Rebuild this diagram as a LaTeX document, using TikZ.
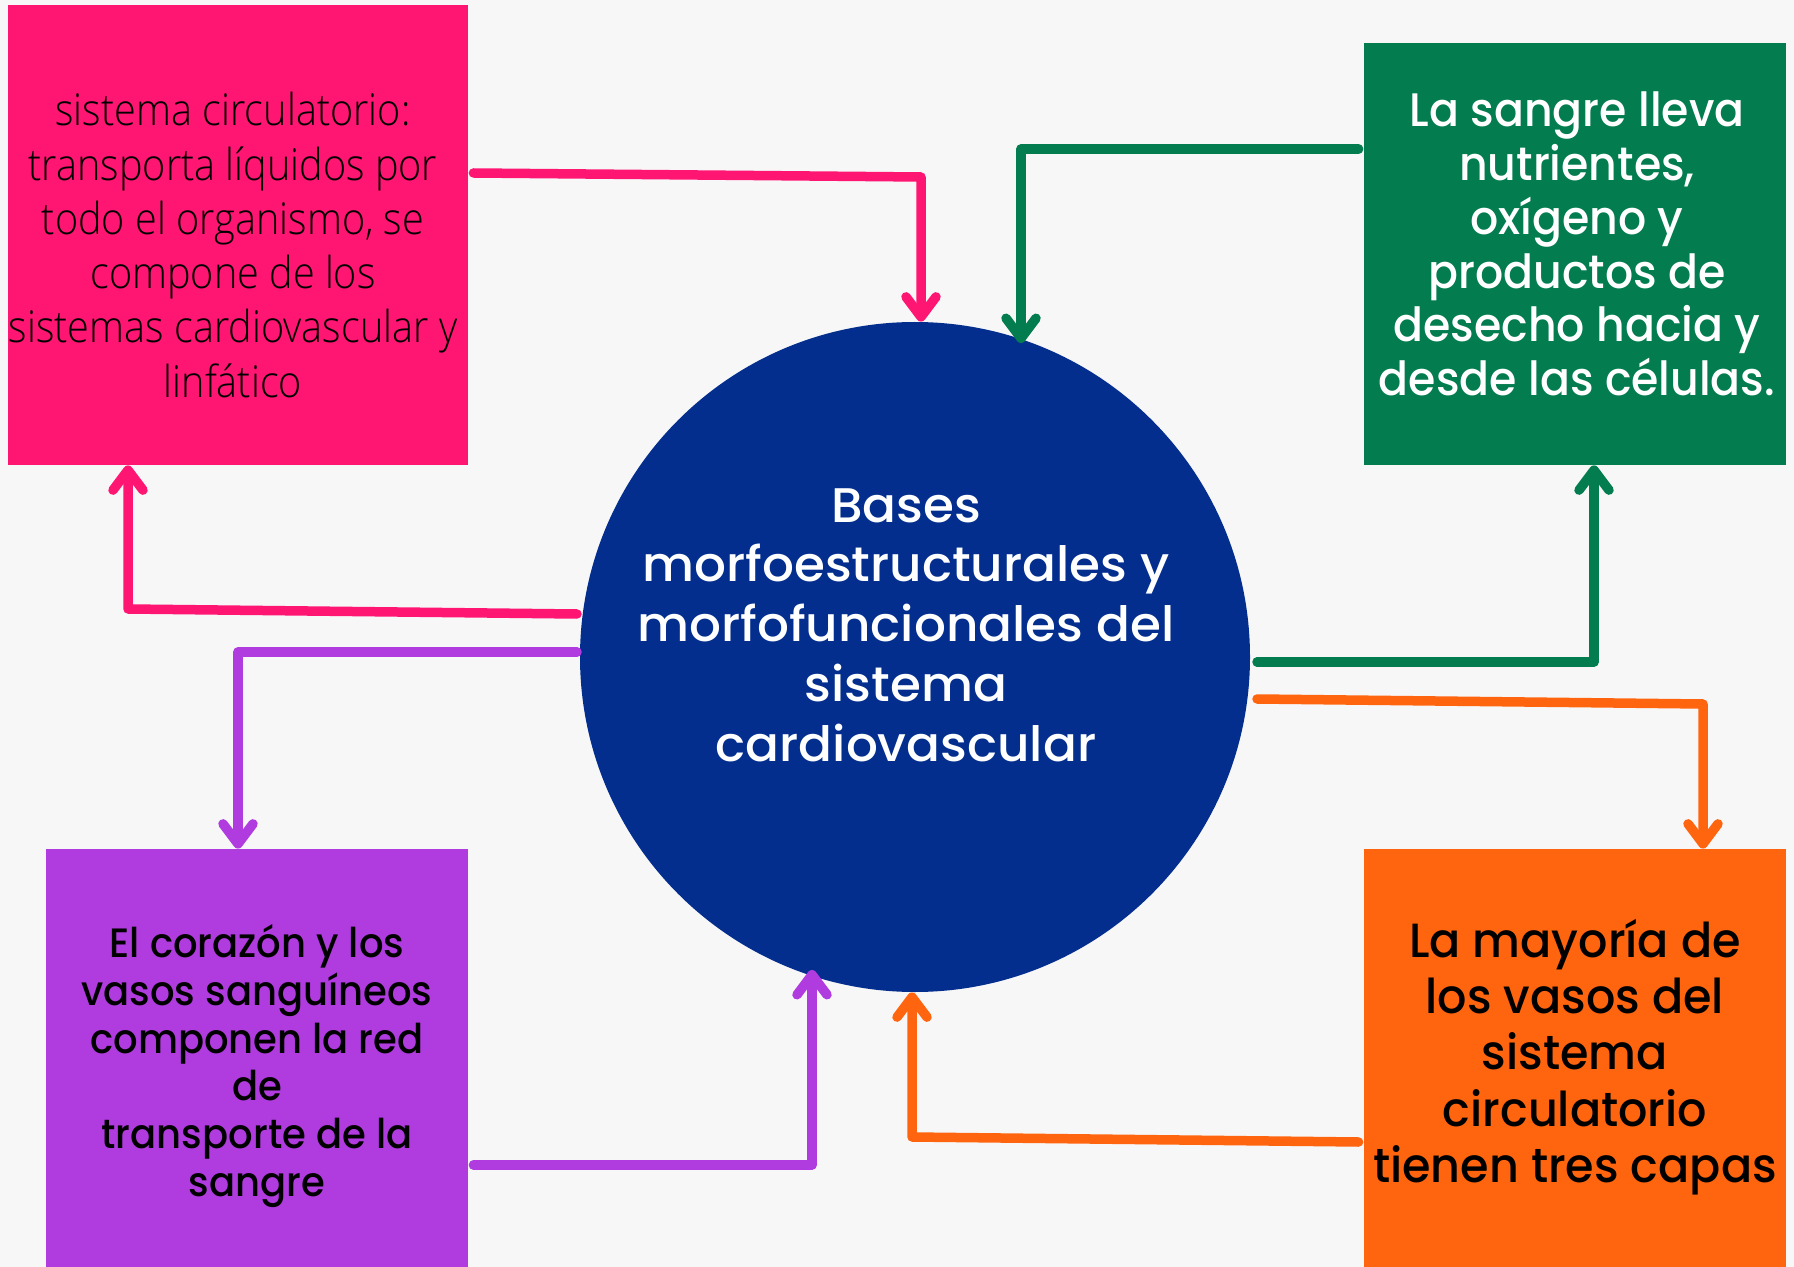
\documentclass[tikz,border=0pt]{standalone}
\usepackage{fontspec}
\setmainfont{Poppins}
\newfontfamily\popg[FakeStretch=0.94]{Poppins Medium}
\newfontfamily\popp[FakeStretch=0.94]{Poppins Medium}
\newfontfamily\popo[FakeStretch=0.96]{Poppins Medium}
\newfontfamily\popc[FakeStretch=1.03]{Poppins Medium}
\newfontfamily\osl[FakeStretch=0.9]{Open Sans Light}
\usetikzlibrary{arrows.meta}
\definecolor{bgc}{HTML}{F7F7F7}
\definecolor{pinkc}{HTML}{FF1572}
\definecolor{greenc}{HTML}{037C4F}
\definecolor{purplec}{HTML}{B03BDF}
\definecolor{orangec}{HTML}{FF640E}
\definecolor{bluec}{HTML}{032E8E}
\begin{document}
\begin{tikzpicture}[x=0.5pt,y=-0.5pt,
  box/.style={rectangle, draw=none, inner sep=0pt},
  lbl/.style={align=center, inner sep=0pt},
  conn/.style={line width=4.75pt, line cap=round, line join=round,
    -{Straight Barb[length=10pt,width=15pt,round]}}]
\useasboundingbox (0,0) rectangle (1794,1267);
\fill[bgc] (0,0) rectangle (1794,1267);
% boxes
\node[box, fill=pinkc, minimum width=230pt, minimum height=230pt] (pink) at (238,235) {};
\node[box, fill=greenc, minimum width=211pt, minimum height=211pt] (green) at (1575,254) {};
\node[box, fill=purplec, minimum width=211pt, minimum height=209pt] (purple) at (257,1058) {};
\node[box, fill=orangec, minimum width=211pt, minimum height=209pt] (orange) at (1575,1058) {};
\node[circle, fill=bluec, draw=none, inner sep=0pt, minimum size=335pt] (hub) at (915,657) {};
% texts
\node[lbl, font=\osl\fontsize{22}{27.15}\selectfont, text=black] (pinkt) at (233,245)
  {sistema circulatorio:\\transporta líquidos por\\todo el organismo, se\\compone de los\\sistemas cardiovascular y\\linfático};
\node[lbl, font=\popg\fontsize{23.5}{26.9}\selectfont, text=white] (greent) at (1577,244)
  {La sangre lleva\\nutrientes,\\oxígeno y\\productos de\\desecho hacia y\\desde las células.};
\node[lbl, font=\popp\fontsize{20.5}{23.9}\selectfont, text=black] (purplet) at (257,1066)
  {El corazón y los\\vasos sanguíneos\\componen la red\\de\\transporte de la\\sangre};
\node[lbl, font=\popo\fontsize{24}{28.15}\selectfont, text=black] (oranget) at (1575,1057)
  {La mayoría de\\los vasos del\\sistema\\circulatorio\\tienen tres capas};
\node[lbl, font=\popc\fontsize{24.3}{29.9}\selectfont, text=white] (hubt) at (906,625)
  {Bases\\morfoestructurales y\\morfofuncionales del\\sistema\\cardiovascular};
% connectors
\draw[conn, pinkc] ([xshift=2.5pt]pink.east |- 0,173) -- (921,177) -- (hub.north -| 921,0);
\draw[conn, greenc] ([xshift=-2.5pt]green.west |- 0,149) -- (1021,149) -- (1021,343);
\draw[conn, pinkc] (577,614) -- (128,609) -- (pink.south -| 128,0);
\draw[conn, purplec] (577,652) -- (238,652) -- (purple.north -| 238,0);
\draw[conn, purplec] ([xshift=2.5pt]purple.east |- 0,1165) -- (812,1165) -- (812,970);
\draw[conn, orangec] ([xshift=-2.5pt]orange.west |- 0,1142) -- (912,1137) -- (hub.south -| 912,0);
\draw[conn, greenc] (1257,662) -- (1594,662) -- (green.south -| 1594,0);
\draw[conn, orangec] (1257,699) -- (1703,704) -- (orange.north -| 1703,0);
\end{tikzpicture}
\end{document}
